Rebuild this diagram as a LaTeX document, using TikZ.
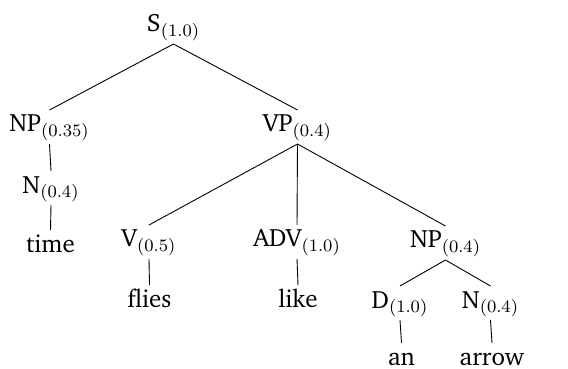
\documentclass[tikz,border=0pt]{standalone}
\usepackage[T1]{fontenc}
\renewcommand{\rmdefault}{bch}
\usepackage{fix-cm}
\begin{document}
\begin{tikzpicture}[x=0.5pt,y=-0.5pt,
  lbl/.style={anchor=base,inner sep=0pt,outer sep=0pt,font=\fontsize{12.5}{15}\selectfont},
  edge/.style={draw=black,line width=0.45pt}]
\useasboundingbox (0,0) rectangle (568,369);
\node[lbl] (S) at (173.5,32) {S$_{(1.0)}$};
\node[lbl] (NP) at (49.5,132) {NP$_{(0.35)}$};
\node[lbl] (VP) at (297.5,132) {VP$_{(0.4)}$};
\node[lbl] (N) at (51,193) {N$_{(0.4)}$};
\node[lbl] (time) at (50.5,252) {time};
\node[lbl] (V) at (149,247) {V$_{(0.5)}$};
\node[lbl] (flies) at (149.5,307) {flies};
\node[lbl] (ADV) at (297,247) {ADV$_{(1.0)}$};
\node[lbl] (like) at (298,307) {like};
\node[lbl] (NPb) at (445.5,248) {NP$_{(0.4)}$};
\node[lbl] (D) at (400,308) {D$_{(1.0)}$};
\node[lbl] (Nb) at (490.5,308) {N$_{(0.4)}$};
\node[lbl] (an) at (401.5,365) {an};
\node[lbl] (arrow) at (492,365) {arrow};
\foreach \p/\c in {S/NP,S/VP,NP/N,N/time,VP/V,VP/ADV,VP/NPb,V/flies,ADV/like,NPb/D,NPb/Nb,D/an,Nb/arrow}
  \draw[edge] ([yshift=-6pt]\p.base) -- ([yshift=11pt]\c.base);
\end{tikzpicture}
\end{document}
